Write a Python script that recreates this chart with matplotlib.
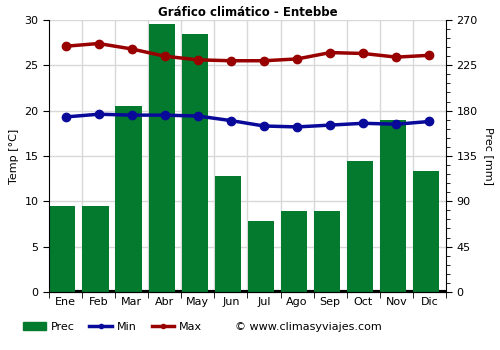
import numpy as np
import matplotlib.pyplot as plt
from matplotlib.lines import Line2D
from matplotlib.patches import Patch

months = ['Ene', 'Feb', 'Mar', 'Abr', 'May', 'Jun', 'Jul', 'Ago', 'Sep', 'Oct', 'Nov', 'Dic']
prec = [85, 85, 185, 266, 256, 115, 70, 80, 80, 130, 171, 120]
t_max = [27.1, 27.4, 26.8, 26.0, 25.6, 25.5, 25.5, 25.7, 26.4, 26.3, 25.9, 26.1]
t_min = [19.3, 19.6, 19.5, 19.5, 19.4, 18.9, 18.3, 18.2, 18.4, 18.6, 18.5, 18.8]

green = '#047a2f'
blue = '#0a0a9a'
red = '#990000'

fig = plt.figure(figsize=(5, 3.5), dpi=100)
ax = fig.add_axes([0.098, 0.166, 0.794, 0.777])
ax2 = ax.twinx()

x = np.arange(len(months))

# precipitation bars on the right axis, left-aligned in each month slot
ax2.bar(x - 0.49, prec, width=0.79, align='edge', color=green, zorder=2)
ax2.axhline(0, color='black', lw=3, zorder=1)
ax2.set_ylim(0, 270)
ax2.set_yticks(np.arange(0, 271, 45))
ax2.set_yticks(np.arange(0, 271, 9), minor=True)
ax2.set_ylabel('Prec [mm]', rotation=270, labelpad=12, fontsize=8)

# temperature lines on the left axis, drawn above the bars
ax.set_zorder(ax2.get_zorder() + 1)
ax.patch.set_visible(False)
ax.plot(x, t_max, color=red, lw=2.5, marker='o', ms=6, zorder=3)
ax.plot(x, t_min, color=blue, lw=2.5, marker='o', ms=6, zorder=3)
ax.set_ylim(0, 30)
ax.set_xlim(-0.5, 11.5)
ax.set_yticks(np.arange(0, 31, 5))
ax.set_xticks(x)
ax.set_xticklabels(months)
ax.set_xticks(np.arange(-0.5, 12, 1), minor=True)
ax.tick_params(axis='x', which='major', length=0, labelsize=8)
ax.tick_params(axis='x', which='minor', length=4)
ax.tick_params(axis='y', labelsize=8, length=4)
ax2.tick_params(axis='y', which='both', labelsize=8, length=4)
ax2.tick_params(axis='y', which='minor', length=3)
ax.set_ylabel('Temp [°C]', fontsize=8)

# grid
ax2.set_axisbelow(True)
for v in np.arange(5, 31, 5):
    ax2.axhline(v * 9, color='#d8d8d8', lw=1, zorder=0)
for v in np.arange(0.5, 11.5, 1):
    ax2.axvline(v, color='#d8d8d8', lw=1, zorder=0)

for a in (ax, ax2):
    a.spines['top'].set_visible(False)
ax.spines['right'].set_visible(False)
ax2.spines['left'].set_visible(False)

ax.set_title('Gráfico climático - Entebbe', fontsize=8.5, fontweight='bold', pad=3)

handles = [
    Patch(color=green, label='Prec'),
    Line2D([0], [0], color=blue, lw=2.5, marker='o', ms=3, label='Min'),
    Line2D([0], [0], color=red, lw=2.5, marker='o', ms=3, label='Max'),
]
fig.legend(handles=handles, loc='lower left', bbox_to_anchor=(0.04, 0.043), ncol=3,
           frameon=False, fontsize=8, handlelength=2.0, handletextpad=0.5,
           columnspacing=1.3, borderaxespad=0, borderpad=0.3)
fig.text(0.47, 0.058, '© www.climasyviajes.com', fontsize=8)

fig.savefig('out.png', dpi=100)
